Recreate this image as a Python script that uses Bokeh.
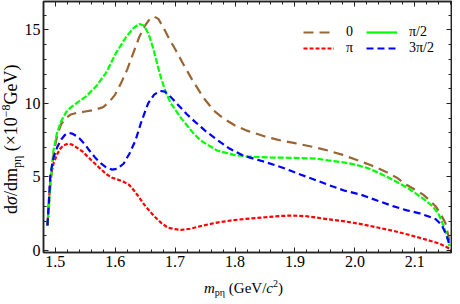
import numpy as np
from bokeh.plotting import figure
from bokeh.layouts import column
from bokeh.models import (FixedTicker, LinearAxis, Legend, LegendItem,
                          Range1d, Div, InlineStyleSheet)
from bokeh.embed import file_html
from bokeh.resources import INLINE

# ---------------- data ----------------
m_0 = [1.487, 1.492, 1.497, 1.503, 1.510, 1.518, 1.526, 1.535, 1.550, 1.565,
       1.580, 1.590, 1.600, 1.610, 1.620, 1.630, 1.640, 1.650, 1.658, 1.665,
       1.672, 1.680, 1.690, 1.700, 1.716, 1.730, 1.749, 1.765, 1.780, 1.800,
       1.820, 1.850, 1.880, 1.900, 1.930, 1.955, 1.980, 2.000, 2.027, 2.053,
       2.070, 2.086, 2.100, 2.114, 2.125, 2.135, 2.145, 2.151, 2.156, 2.158]
s_0 = [1.7, 4.5, 6.5, 7.8, 8.6, 9.0, 9.25, 9.35, 9.45, 9.55,
       9.75, 10.1, 10.6, 11.4, 12.3, 13.4, 14.5, 15.3, 15.75, 15.9,
       15.75, 15.2, 14.4, 13.7, 12.5, 11.5, 10.3, 9.5, 9.0, 8.5,
       8.15, 7.75, 7.45, 7.3, 7.05, 6.8, 6.5, 6.2, 5.8, 5.33,
       4.95, 4.47, 4.15, 3.8, 3.4, 3.0, 2.35, 1.87, 1.0, 0.4]

m_pi = [1.487, 1.492, 1.497, 1.503, 1.508, 1.513, 1.521, 1.528, 1.536, 1.545,
        1.552, 1.560, 1.569, 1.577, 1.585, 1.595, 1.606, 1.615, 1.623, 1.631,
        1.639, 1.647, 1.655, 1.666, 1.677, 1.688, 1.700, 1.710, 1.725, 1.743,
        1.770, 1.798, 1.825, 1.852, 1.875, 1.896, 1.920, 1.955, 1.985, 2.010,
        2.040, 2.065, 2.090, 2.108, 2.125, 2.141, 2.150, 2.158]
s_pi = [1.7, 5.0, 5.9, 6.53, 6.9, 7.13, 7.27, 7.2, 7.0, 6.75,
        6.47, 6.15, 5.8, 5.5, 5.2, 4.95, 4.8, 4.65, 4.47, 4.1,
        3.67, 3.2, 2.8, 2.3, 1.87, 1.55, 1.45, 1.4, 1.48, 1.67,
        1.9, 2.07, 2.18, 2.27, 2.35, 2.38, 2.33, 2.13, 1.97, 1.8,
        1.55, 1.33, 1.07, 0.87, 0.67, 0.47, 0.3, 0.13]

m_pi2 = [1.487, 1.492, 1.497, 1.503, 1.510, 1.518, 1.525, 1.535, 1.552, 1.569,
         1.585, 1.601, 1.618, 1.630, 1.640, 1.648, 1.656, 1.664, 1.672, 1.677,
         1.685, 1.693, 1.700, 1.710, 1.720, 1.730, 1.743, 1.770, 1.798, 1.820,
         1.852, 1.900, 1.934, 1.955, 1.980, 2.000, 2.020, 2.037, 2.055, 2.076,
         2.090, 2.102, 2.115, 2.130, 2.140, 2.146, 2.152, 2.158]
s_pi2 = [1.7, 4.6, 6.8, 8.0, 8.8, 9.4, 9.7, 10.0, 10.5, 11.2,
         12.1, 13.4, 14.5, 15.1, 15.4, 15.3, 14.7, 13.67, 12.4, 11.67,
         10.7, 10.0, 9.6, 9.0, 8.5, 8.0, 7.47, 6.8, 6.5, 6.4,
         6.33, 6.3, 6.25, 6.13, 6.0, 5.85, 5.62, 5.33, 4.98, 4.53,
         4.2, 3.87, 3.5, 3.0, 2.45, 1.87, 1.2, 0.3]

m_3pi2 = [1.487, 1.492, 1.497, 1.503, 1.510, 1.516, 1.523, 1.528, 1.535, 1.541,
          1.550, 1.557, 1.566, 1.574, 1.585, 1.595, 1.603, 1.614, 1.624, 1.634,
          1.644, 1.655, 1.665, 1.675, 1.683, 1.690, 1.696, 1.705, 1.720, 1.732,
          1.750, 1.770, 1.790, 1.814, 1.852, 1.885, 1.910, 1.934, 1.955, 1.983,
          2.010, 2.037, 2.065, 2.087, 2.108, 2.122, 2.135, 2.145, 2.151, 2.156,
          2.158]
s_3pi2 = [1.7, 5.2, 6.3, 7.0, 7.55, 7.85, 8.0, 7.95, 7.8, 7.6,
          7.2, 6.8, 6.35, 6.0, 5.65, 5.5, 5.55, 5.9, 6.6, 7.5,
          8.8, 10.0, 10.6, 10.85, 10.8, 10.55, 10.3, 9.9, 9.25, 8.8,
          8.15, 7.53, 6.95, 6.45, 6.0, 5.55, 5.15, 4.8, 4.47, 4.07,
          3.8, 3.4, 3.0, 2.73, 2.53, 2.33, 2.13, 1.73, 1.2, 0.67,
          0.3]

series_labels = ["0", "π", "π/2", "3π/2"]

x_ticks = [1.5, 1.6, 1.7, 1.8, 1.9, 2.0, 2.1]
x_tick_labels = ["1.5", "1.6", "1.7", "1.8", "1.9", "2.0", "2.1"]
y_ticks = [0, 5, 10, 15]
y_tick_labels = ["0", "5", "10", "15"]

# ---------------- styling ----------------
FONT = "Liberation Serif"
colors = ["#996633", "#FF0000", "#00FF00", "#0000FF"]
dashes = ["10 6", "4 2", "6 2", "7 4"]
LW = 2.2

serif_css = InlineStyleSheet(css=(
    "text, svg text, :host text { font-family: 'Liberation Serif', serif !important; }"))

p = figure(width=452, height=280, output_backend="svg", toolbar_location=None,
           x_range=Range1d(1.4804, 2.1612), y_range=Range1d(-0.133, 16.93),
           min_border_left=43, min_border_right=1, min_border_top=1,
           min_border_bottom=28, margin=0)
p.stylesheets = [serif_css]
p.styles = {"font-family": "'Liberation Serif', serif"}
p.background_fill_color = "white"
p.border_fill_color = "white"
p.xgrid.visible = False
p.ygrid.visible = False
p.outline_line_color = "#222222"
p.outline_line_width = 1.5

x_minor = [round(v, 2) for v in np.arange(1.48, 2.17, 0.02)]
y_minor = list(range(0, 17))
xt = FixedTicker(ticks=x_ticks, minor_ticks=x_minor)
yt = FixedTicker(ticks=y_ticks, minor_ticks=y_minor)


def style_axis(ax, show_labels):
    ax.major_tick_in = 5
    ax.major_tick_out = 0
    ax.minor_tick_in = 3
    ax.minor_tick_out = 0
    ax.major_tick_line_color = "#222222"
    ax.minor_tick_line_color = "#222222"
    ax.axis_line_color = "#222222"
    ax.axis_line_width = 1.5
    if show_labels:
        ax.major_label_text_font = FONT
        ax.major_label_text_font_size = "16px"
        ax.major_label_text_color = "black"
        ax.major_label_standoff = 3
    else:
        ax.major_label_text_font_size = "0px"
        ax.major_label_text_color = None
        ax.major_label_standoff = 0


p.xaxis.ticker = xt
p.yaxis.ticker = yt
p.xaxis.major_label_overrides = {t: l for t, l in zip(x_ticks, x_tick_labels)}
p.yaxis.major_label_overrides = {t: l for t, l in zip(y_ticks, y_tick_labels)}
style_axis(p.xaxis[0], True)
style_axis(p.yaxis[0], True)

top_ax = LinearAxis(ticker=xt)
right_ax = LinearAxis(ticker=yt)
style_axis(top_ax, False)
style_axis(right_ax, False)
p.add_layout(top_ax, "above")
p.add_layout(right_ax, "right")

# ---------------- curves ----------------
r0 = p.line(m_0, s_0, line_color=colors[0], line_width=LW, line_dash=dashes[0])
r1 = p.line(m_pi, s_pi, line_color=colors[1], line_width=LW, line_dash=dashes[1])
r2 = p.line(m_pi2, s_pi2, line_color=colors[2], line_width=LW, line_dash=dashes[2])
r3 = p.line(m_3pi2, s_3pi2, line_color=colors[3], line_width=LW, line_dash=dashes[3])
# solid proxy for the legend sample of pi/2 (not shown in the plot)
r2_leg = p.line(m_pi2, s_pi2, line_color=colors[2], line_width=LW, visible=False)

legend = Legend(items=[LegendItem(label=series_labels[0], renderers=[r0]),
                       LegendItem(label=series_labels[1], renderers=[r1]),
                       LegendItem(label=series_labels[2], renderers=[r2_leg]),
                       LegendItem(label=series_labels[3], renderers=[r3])],
                location=(260, 196), orientation="vertical", nrows=2,
                padding=0, margin=0, spacing=0, label_standoff=12,
                glyph_width=31, glyph_height=14, label_height=14,
                label_text_font=FONT, label_text_font_size="14px",
                label_text_color="black", border_line_color=None,
                background_fill_alpha=0)
p.add_layout(legend, "center")

# ---------------- axis titles (HTML text with sub/superscripts) -------------
SERIF = "font-family:'Liberation Serif', serif; color:black; white-space:nowrap;"
x_title = ('<i>m</i><span style="font-size:10px; position:relative; top:3px;">pη</span>'
           ' (GeV/<i>c</i><span style="font-size:10px; position:relative; top:-6px;">2</span>)')
y_title = ('d<i>σ</i>/dm<span style="font-size:12px; position:relative; top:4px;">pη</span>'
           ' (×10<span style="font-size:12px; position:relative; top:-7px;">−8</span>GeV)')
html = (
    '<div style="position:relative; width:452px; height:16px;">'
    f'<div style="position:absolute; left:204px; top:1px; font-size:15px; line-height:15px; {SERIF}">{x_title}</div>'
    f'<div style="position:absolute; left:2px; top:-66px; font-size:18px; line-height:18px; {SERIF}'
    ' transform-origin:0 0; transform:rotate(-90deg);">'
    f'{y_title}</div>'
    '</div>'
)
titles = Div(text=html, width=452, height=16, margin=0,
             styles={"overflow": "visible"},
             stylesheets=[":host { overflow: visible !important; } div { overflow: visible !important; }"])

layout = column(p, titles, spacing=0, margin=0)
open("out.html", "w").write(file_html(layout, INLINE))
